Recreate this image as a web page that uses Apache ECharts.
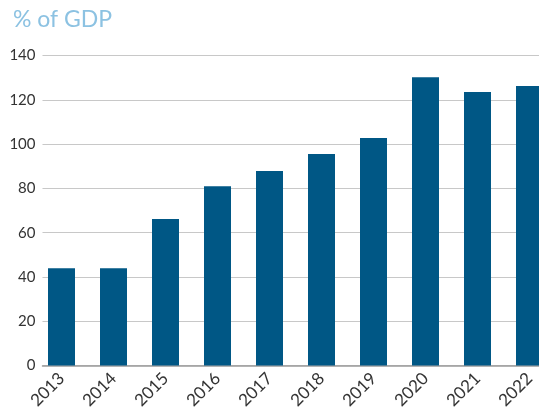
<!DOCTYPE html>
<html>
<head>
<meta charset="utf-8">
<script src="https://cdn.jsdelivr.net/npm/echarts@6/dist/echarts.min.js"></script>
<style>html,body{margin:0;padding:0;background:#fff;overflow:hidden}#c{width:560px;height:419px}</style>
</head>
<body>
<div id="c"></div>
<script>
const years = ['2013','2014','2015','2016','2017','2018','2019','2020','2021','2022'];
const debtPctGdp = [44.0, 44.0, 66.2, 81.0, 87.8, 95.5, 102.7, 130.2, 123.5, 126.2];
const yTicks = {min: 0, max: 140, interval: 20};
const titleText = '% of GDP';

const chart = echarts.init(document.getElementById('c'));
const FONT = 'Lato';
chart.setOption({
  animation: false,
  backgroundColor: '#ffffff',
  title: {
    text: titleText, left: 8, top: 3,
    textStyle: {color: '#8cc2e2', fontSize: 23, fontWeight: 'normal', fontFamily: FONT}
  },
  grid: [
    {left: 42.5, width: 497, top: 55.5, bottom: 53.4, containLabel: false},
    {left: 35.5, width: 520, top: 55.5, bottom: 53.4, containLabel: false}
  ],
  xAxis: [
    {gridIndex: 0, type: 'value', min: 0, max: 1, axisLabel: {show: false}, axisTick: {show: false},
     splitLine: {show: false}, axisLine: {show: true, lineStyle: {color: '#9a9a9a', width: 1.5}}},
    {gridIndex: 1, type: 'category', data: years, axisLine: {show: false}, axisTick: {show: false},
     axisLabel: {rotate: 45, fontSize: 17, color: '#333', fontFamily: FONT, margin: 10, interval: 0}}
  ],
  yAxis: [
    {gridIndex: 0, type: 'value', min: yTicks.min, max: yTicks.max, interval: yTicks.interval,
     axisLine: {show: false}, axisTick: {show: false},
     axisLabel: {fontSize: 15, color: '#333', fontFamily: FONT, margin: 7},
     splitLine: {lineStyle: {color: '#c8c8c8', width: 1.2}}},
    {gridIndex: 1, type: 'value', min: yTicks.min, max: yTicks.max, interval: yTicks.interval, show: false,
     splitLine: {show: false}}
  ],
  series: [{
    type: 'bar', xAxisIndex: 1, yAxisIndex: 1, data: debtPctGdp, barWidth: 27,
    itemStyle: {color: '#005785'}, z: 3
  }]
});
</script>
</body>
</html>
